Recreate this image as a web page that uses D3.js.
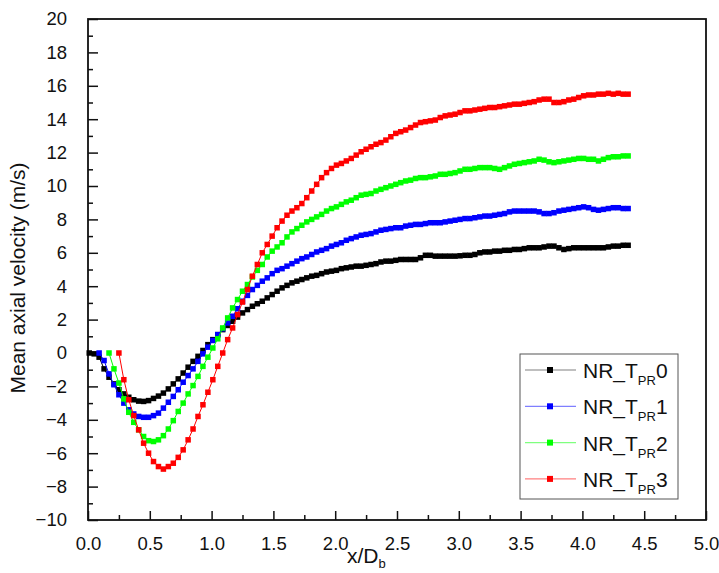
<!DOCTYPE html>
<html lang="en">
<head>
<meta charset="UTF-8">
<title>Mean axial velocity</title>
<script src="https://cdn.jsdelivr.net/npm/d3@7"></script>
<style>
    body { margin: 0; background: #fff; }
    svg text { font-family: "Liberation Sans", Arial, sans-serif; fill: #111; }
</style>
</head>
<body>
<div id="chart"></div>
<script>
// x/Db positions shared by all series
var xGrid = [
    0.01, 0.05, 0.09, 0.13, 0.17, 0.21, 0.25, 0.29, 0.33, 0.37,
    0.41, 0.45, 0.49, 0.53, 0.57, 0.61, 0.65, 0.69, 0.73, 0.77,
    0.81, 0.85, 0.89, 0.93, 0.97, 1.01, 1.05, 1.09, 1.13, 1.17,
    1.21, 1.25, 1.29, 1.33, 1.37, 1.41, 1.45, 1.49, 1.53, 1.57,
    1.61, 1.65, 1.69, 1.73, 1.77, 1.81, 1.85, 1.89, 1.93, 1.97,
    2.01, 2.05, 2.09, 2.13, 2.17, 2.21, 2.25, 2.29, 2.33, 2.37,
    2.41, 2.45, 2.49, 2.53, 2.57, 2.61, 2.65, 2.69, 2.73, 2.77,
    2.81, 2.85, 2.89, 2.93, 2.97, 3.01, 3.05, 3.09, 3.13, 3.17,
    3.21, 3.25, 3.29, 3.33, 3.37, 3.41, 3.45, 3.49, 3.53, 3.57,
    3.61, 3.65, 3.69, 3.73, 3.77, 3.81, 3.85, 3.89, 3.93, 3.97,
    4.01, 4.05, 4.09, 4.13, 4.17, 4.21, 4.25, 4.29, 4.33, 4.37
];

var tpr0 = [
    0, -0.05, -0.25, -0.95, -1.45, -1.85, -2.2, -2.45, -2.65, -2.8,
    -2.88, -2.9, -2.85, -2.72, -2.58, -2.4, -2.15, -1.85, -1.55, -1.2,
    -0.85, -0.5, -0.2, 0.15, 0.5, 0.8, 1.1, 1.4, 1.65, 1.9,
    2.15, 2.4, 2.6, 2.8, 2.95, 3.1, 3.3, 3.5, 3.7, 3.9,
    4.05, 4.2, 4.3, 4.4, 4.5, 4.6, 4.65, 4.75, 4.85, 4.9,
    4.95, 5.05, 5.1, 5.15, 5.2, 5.2, 5.25, 5.3, 5.35, 5.45,
    5.5, 5.5, 5.55, 5.6, 5.6, 5.6, 5.6, 5.7, 5.85, 5.85,
    5.8, 5.8, 5.8, 5.8, 5.8, 5.82, 5.85, 5.85, 5.9, 6.0,
    6.05, 6.05, 6.1, 6.1, 6.15, 6.15, 6.2, 6.2, 6.25, 6.3,
    6.3, 6.3, 6.35, 6.4, 6.4, 6.3, 6.2, 6.25, 6.3, 6.3,
    6.3, 6.3, 6.3, 6.3, 6.3, 6.35, 6.4, 6.4, 6.45, 6.45
];

var tpr1 = [
    null, null, 0, -0.45, -1.25, -1.9, -2.5, -3.0, -3.4, -3.65,
    -3.8, -3.85, -3.85, -3.75, -3.6, -3.3, -2.95, -2.6, -2.2, -1.75,
    -1.35, -0.95, -0.5, -0.05, 0.35, 0.75, 1.1, 1.45, 1.8, 2.2,
    2.65, 3.1, 3.45, 3.8, 4.05, 4.3, 4.5, 4.75, 4.95, 5.05,
    5.2, 5.35, 5.5, 5.65, 5.75, 5.9, 6.05, 6.15, 6.25, 6.4,
    6.5, 6.6, 6.75, 6.85, 6.95, 7.05, 7.1, 7.15, 7.25, 7.35,
    7.4, 7.45, 7.5, 7.5, 7.6, 7.65, 7.7, 7.7, 7.75, 7.8,
    7.8, 7.8, 7.85, 7.9, 7.95, 8.0, 8.05, 8.05, 8.1, 8.15,
    8.2, 8.2, 8.25, 8.3, 8.35, 8.45, 8.5, 8.5, 8.5, 8.5,
    8.5, 8.45, 8.35, 8.35, 8.4, 8.5, 8.55, 8.6, 8.65, 8.7,
    8.75, 8.7, 8.6, 8.55, 8.6, 8.65, 8.7, 8.7, 8.65, 8.65
];

var tpr2 = [
    null, null, null, null, 0, -0.95, -1.8, -2.75, -3.55, -4.15,
    -4.6, -5.0, -5.25, -5.3, -5.2, -4.95, -4.55, -4.05, -3.5, -3.0,
    -2.45, -1.95, -1.4, -0.8, -0.25, 0.3, 0.85, 1.5, 2.1, 2.7,
    3.2, 3.7, 4.1, 4.55, 4.95, 5.3, 5.75, 6.1, 6.35, 6.6,
    6.95, 7.25, 7.45, 7.65, 7.85, 8.0, 8.15, 8.3, 8.5, 8.65,
    8.75, 8.9, 9.05, 9.15, 9.3, 9.45, 9.5, 9.55, 9.7, 9.8,
    9.9, 10.0, 10.1, 10.2, 10.3, 10.35, 10.45, 10.5, 10.5, 10.55,
    10.6, 10.7, 10.7, 10.75, 10.8, 10.9, 11.0, 11.0, 11.05, 11.1,
    11.1, 11.1, 11.05, 11.0, 11.1, 11.2, 11.3, 11.35, 11.4, 11.45,
    11.5, 11.6, 11.55, 11.45, 11.4, 11.45, 11.5, 11.55, 11.6, 11.65,
    11.65, 11.6, 11.6, 11.5, 11.6, 11.7, 11.75, 11.75, 11.8, 11.8
];

var tpr3 = [
    null, null, null, null, null, null, 0, -1.6, -2.8, -3.75,
    -4.6, -5.4, -6.0, -6.5, -6.8, -6.95, -6.8, -6.6, -6.25, -5.8,
    -5.2, -4.55, -3.8, -3.1, -2.35, -1.6, -0.8, 0.0, 0.8, 1.5,
    2.3, 3.05, 3.8, 4.6, 5.3, 6.0, 6.5, 7.0, 7.5, 7.9,
    8.25, 8.5, 8.7, 8.95, 9.3, 9.7, 10.1, 10.5, 10.8, 11.05,
    11.25, 11.35, 11.5, 11.65, 11.85, 12.05, 12.2, 12.35, 12.5, 12.6,
    12.75, 12.95, 13.15, 13.25, 13.35, 13.5, 13.65, 13.8, 13.85, 13.9,
    13.95, 14.1, 14.2, 14.25, 14.3, 14.4, 14.5, 14.5, 14.55, 14.6,
    14.65, 14.7, 14.7, 14.75, 14.8, 14.85, 14.9, 14.9, 14.95, 15.0,
    15.05, 15.15, 15.2, 15.2, 15.0, 15.0, 15.05, 15.15, 15.2, 15.3,
    15.4, 15.45, 15.45, 15.5, 15.5, 15.55, 15.5, 15.55, 15.5, 15.5
];

var seriesNames = ["0", "1", "2", "3"];
var seriesColors = ["#000000", "#0000ff", "#00ff00", "#ff0000"];
var seriesValues = [tpr0, tpr1, tpr2, tpr3];

var yTicks = [-10, -8, -6, -4, -2, 0, 2, 4, 6, 8, 10, 12, 14, 16, 18, 20];
var xTicks = [0, 0.5, 1, 1.5, 2, 2.5, 3, 3.5, 4, 4.5, 5];

var W = 719, H = 573;
var margin = { top: 19, right: 13, bottom: 53, left: 88 },
    width = W - margin.left - margin.right,
    height = H - margin.top - margin.bottom;

var svg = d3.select("#chart")
    .append("svg")
    .attr("width", W)
    .attr("height", H)
    .append("g")
    .attr("transform", "translate(" + margin.left + "," + margin.top + ")");

var x = d3.scaleLinear().domain([0, 5]).range([0, width]);
var y = d3.scaleLinear().domain([-10, 20]).range([height, 0]);

// ticks point inward
var xAxis = d3.axisBottom(x).tickValues(xTicks).tickFormat(d3.format(".1f"))
    .tickSizeInner(-9).tickSizeOuter(0).tickPadding(17);
var yAxis = d3.axisLeft(y).tickValues(yTicks).tickFormat(d3.format("d"))
    .tickSizeInner(-10).tickSizeOuter(0).tickPadding(21);
var xMinor = d3.axisBottom(x).tickValues(d3.range(0.25, 5, 0.5))
    .tickSize(-5).tickFormat("");
var yMinor = d3.axisLeft(y).tickValues(d3.range(-9, 20, 2))
    .tickSize(-5).tickFormat("");

[xAxis, xMinor].forEach(function (a) {
    svg.append("g").attr("class", "axis")
        .attr("transform", "translate(0," + height + ")")
        .call(a);
});
[yAxis, yMinor].forEach(function (a) {
    svg.append("g").attr("class", "axis").call(a);
});

svg.selectAll(".axis .domain").remove();
svg.selectAll(".axis line").attr("stroke", "#111").attr("stroke-width", 1.5);
svg.selectAll(".axis text").style("font-size", "18.5px").attr("fill", "#111");

svg.append("rect")
    .attr("width", width)
    .attr("height", height)
    .attr("fill", "none")
    .attr("stroke", "#111")
    .attr("stroke-width", 1.8);

// titles
svg.append("text")
    .attr("transform", "translate(" + (25 - margin.left) + "," + (278 - margin.top) + ") rotate(-90)")
    .attr("text-anchor", "middle")
    .style("font-size", "21px")
    .text("Mean axial velocity (m/s)");

var xt = svg.append("text")
    .attr("x", 347 - margin.left)
    .attr("y", 563 - margin.top)
    .style("font-size", "21px");
xt.append("tspan").text("x/D");
xt.append("tspan").attr("dy", 5).style("font-size", "13px").text("b");

// data
var series = seriesNames.map(function (name, i) {
    return {
        name: name,
        color: seriesColors[i],
        values: xGrid.map(function (xv, j) { return { x: xv, v: seriesValues[i][j] }; })
            .filter(function (d) { return d.v !== null; })
    };
});

var line = d3.line()
    .x(function (d) { return x(d.x); })
    .y(function (d) { return y(d.v); });

var plot = svg.append("g");
var groups = plot.selectAll("g.series")
    .data(series)
    .enter()
    .append("g")
    .attr("class", "series");

groups.append("path")
    .attr("d", function (d) { return line(d.values); })
    .attr("fill", "none")
    .attr("stroke", function (d) { return d.color; })
    .attr("stroke-width", 1);

var ms = 5.5;
groups.selectAll("rect")
    .data(function (d) { return d.values.map(function (p) { return { p: p, color: d.color }; }); })
    .enter()
    .append("rect")
    .attr("x", function (d) { return x(d.p.x) - ms / 2; })
    .attr("y", function (d) { return y(d.p.v) - ms / 2; })
    .attr("width", ms)
    .attr("height", ms)
    .attr("fill", function (d) { return d.color; });

// legend
var lg = svg.append("g")
    .attr("transform", "translate(" + (520 - margin.left) + "," + (354 - margin.top) + ")");

lg.append("rect")
    .attr("width", 158)
    .attr("height", 145)
    .attr("fill", "#fff")
    .attr("stroke", "#555")
    .attr("stroke-width", 1);

var item = lg.selectAll("g.item")
    .data(series)
    .enter()
    .append("g")
    .attr("class", "item")
    .attr("transform", function (d, i) { return "translate(0," + (16 + i * 36.3) + ")"; });

item.append("line")
    .attr("x1", 5).attr("x2", 56)
    .attr("stroke", function (d) { return d.color; })
    .attr("stroke-opacity", 0.5)
    .attr("stroke-width", 1.2);

item.append("rect")
    .attr("x", 27).attr("y", -3)
    .attr("width", 6).attr("height", 6)
    .attr("fill", function (d) { return d.color; });

var lt = item.append("text")
    .attr("x", 63)
    .attr("y", 8)
    .style("font-size", "21px");
lt.append("tspan").text("NR_T");
lt.append("tspan").attr("dy", 7).style("font-size", "13px").text("PR");
lt.append("tspan").attr("dy", -7).text(function (d) { return d.name; });
</script>
</body>
</html>
